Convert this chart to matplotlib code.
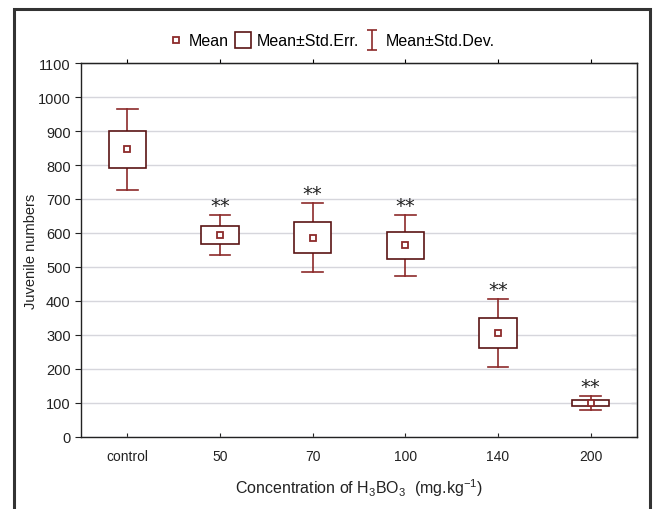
import numpy as np
import matplotlib
matplotlib.use("Agg")
import matplotlib.pyplot as plt
from matplotlib.patches import Rectangle
from matplotlib.lines import Line2D
from matplotlib.path import Path

plt.rcParams['font.family'] = ['Liberation Sans', 'DejaVu Sans']
plt.rcParams['mathtext.default'] = 'regular'

# data
groups = ['control', '50', '70', '100', '140', '200']
means = [846, 594, 586, 564, 306, 100]
std_err = [54, 26, 45, 40, 45, 10]
std_dev = [119, 59, 101, 90, 101, 22]
stars = ['', '**', '**', '**', '**', '**']

box_col = '#5a1414'
wh_col = '#8c2a2a'

fig = plt.figure(figsize=(6.56, 5.10), dpi=100)
ax = fig.add_axes([0.1235, 0.1412, 0.8475, 0.7333])

x = np.arange(len(groups))
bw = 0.4   # box width in category units
cw = 0.22  # cap width

for i in x:
    m, se, sd = means[i], std_err[i], std_dev[i]
    # whiskers (std dev)
    ax.plot([i, i], [m + se, m + sd], color=wh_col, lw=1.2, zorder=2)
    ax.plot([i, i], [m - sd, m - se], color=wh_col, lw=1.2, zorder=2)
    ax.plot([i - cw / 2, i + cw / 2], [m + sd, m + sd], color=wh_col, lw=1.2, zorder=2)
    ax.plot([i - cw / 2, i + cw / 2], [m - sd, m - sd], color=wh_col, lw=1.2, zorder=2)
    # box (std err)
    ax.add_patch(Rectangle((i - bw / 2, m - se), bw, 2 * se, facecolor='white',
                           edgecolor=box_col, lw=1.2, zorder=3))
    # mean
    ax.plot(i, m, 's', ms=5, mfc='white', mec=wh_col, mew=1.3, zorder=4)
    if stars[i]:
        ax.annotate(stars[i], (i, m + sd), xytext=(0, 0), textcoords='offset points',
                    ha='center', va='bottom', fontsize=14, color='#222222',
                    family='DejaVu Sans')

ax.set_xlim(-0.5, len(groups) - 0.5)
ax.set_ylim(0, 1100)
ax.set_yticks(np.arange(0, 1101, 100))
ax.set_xticks(x)
ax.set_xticklabels(groups)
ax.grid(axis='y', color='#d6d6dc', lw=1)
ax.set_axisbelow(True)
for s in ax.spines.values():
    s.set_color('#222222')
    s.set_linewidth(1)
ax.tick_params(axis='y', direction='out', length=4, labelsize=10.5, colors='#222222')
ax.tick_params(axis='x', direction='in', length=3, labelsize=10, colors='#222222', pad=9)
sy = ax.secondary_yaxis('right')
sy.tick_params(direction='in', length=4, labelright=False)
sy.set_yticks(np.arange(0, 1101, 100))
sx = ax.secondary_xaxis('top')
sx.tick_params(direction='out', length=3, labeltop=False)
sx.set_xticks(x)

ax.set_ylabel('Juvenile numbers', fontsize=10.5, color='#222222')
ax.yaxis.set_label_coords(-0.078, 0.5)
ax.set_xlabel('Concentration of H$_3$BO$_3$  (mg.kg$^{-1}$)', fontsize=11.5,
              color='#222222', labelpad=9)

# legend
ibeam = Path([(-0.5, 1), (0.5, 1), (0, 1), (0, -1), (-0.5, -1), (0.5, -1)],
             [Path.MOVETO, Path.LINETO, Path.MOVETO, Path.LINETO, Path.MOVETO, Path.LINETO])
h_mean = Line2D([], [], marker='s', ls='none', ms=5, mfc='white', mec=wh_col, mew=1.3)
h_box = Line2D([], [], marker='s', ls='none', ms=12, mfc='white', mec=box_col, mew=1.2)
h_sd = Line2D([], [], marker=ibeam, ls='none', ms=14, mec=wh_col, mew=1.2)
fig.legend([h_mean, h_box, h_sd], ['Mean', 'Mean\u00b1Std.Err.', 'Mean\u00b1Std.Dev.'],
           loc='center', bbox_to_anchor=(0.505, 0.918), ncol=3, frameon=False,
           fontsize=11.5, handlelength=1.0, handletextpad=0.35, columnspacing=0.35)

# outer frame
fig.add_artist(Rectangle((14 / 656, -0.05), 636 / 656, 1 - 10 / 510 + 0.05,
                         transform=fig.transFigure, fill=False, edgecolor='#333333', lw=2.2))

fig.savefig('out.png', dpi=100)
